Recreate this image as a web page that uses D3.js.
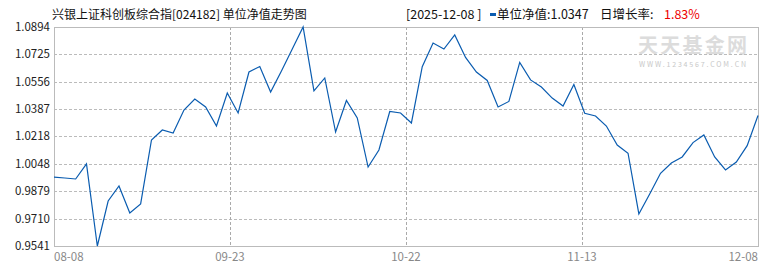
<!DOCTYPE html>
<html>
<head>
<meta charset="utf-8">
<script src="https://cdn.jsdelivr.net/npm/d3@7"></script>
<style>
  body { margin: 0; background: #fff; }
  svg text { font-family: "Noto Sans CJK SC", "DejaVu Sans", sans-serif; }
</style>
</head>
<body>
<script>
// 单位净值 (按交易日顺序)
const navValues = [
  0.9967, 0.9961, 0.9955, 1.0048, 0.9541, 0.9819, 0.9912, 0.9745, 0.9801, 1.0196,
  1.0258, 1.0239, 1.0381, 1.0449, 1.0400, 1.0282, 1.0486, 1.0363, 1.0616, 1.0650,
  1.0492, 1.0622, 1.0758, 1.0894, 1.0499, 1.0579, 1.0245, 1.0440, 1.0332, 1.0029,
  1.0134, 1.0372, 1.0363, 1.0301, 1.0649, 1.0795, 1.0758, 1.0845, 1.0706, 1.0616,
  1.0564, 1.0400, 1.0434, 1.0675, 1.0567, 1.0523, 1.0455, 1.0406, 1.0539, 1.0361,
  1.0344, 1.0282, 1.0165, 1.0114, 0.9739, 0.9862, 0.9990, 1.0054, 1.0091, 1.0180,
  1.0227, 1.0091, 1.0011, 1.0060, 1.0161, 1.0347
];
const yTicks = [0.9541, 0.9710, 0.9879, 1.0048, 1.0218, 1.0387, 1.0556, 1.0725, 1.0894];
const xTickLabels = ['08-08', '09-23', '10-22', '11-13', '12-08'];

const title = '兴银上证科创板综合指[024182] 单位净值走势图';
const lastDate = '2025-12-08';
const lastNav = '1.0347';
const lastGrowth = '1.83%';

const W = 770, H = 270;
const m = { left: 54, right: 758, top: 27, bottom: 246 };

const svg = d3.select('body').append('svg').attr('width', W).attr('height', H);

const x = d3.scaleLinear().domain([0, navValues.length - 1]).range([m.left, m.right]);
const y = d3.scaleLinear().domain([yTicks[0], yTicks[yTicks.length - 1]]).range([m.bottom, m.top]);

// 水印
svg.append('text')
  .attr('x', 638).attr('y', 53)
  .attr('font-size', 20).attr('font-weight', 'bold')
  .attr('fill', '#dcdcdc')
  .attr('textLength', 109)
  .text('天天基金网');
svg.append('text')
  .attr('x', 639).attr('y', 67)
  .attr('font-size', 7)
  .attr('fill', '#c8c8c8')
  .attr('textLength', 107)
  .text('WWW.1234567.COM.CN');

// 横向网格
svg.append('g').selectAll('line')
  .data(yTicks.slice(1, -1))
  .join('line')
  .attr('x1', m.left).attr('x2', m.right)
  .attr('y1', d => Math.round(y(d)) + 0.5).attr('y2', d => Math.round(y(d)) + 0.5)
  .style('stroke', '#bbb').style('stroke-dasharray', '3,2');

// 纵向网格
const xTickPos = xTickLabels.map((d, i) => (navValues.length - 1) * i / (xTickLabels.length - 1));
svg.append('g').selectAll('line')
  .data(xTickPos.slice(1, -1))
  .join('line')
  .attr('x1', d => Math.round(x(d)) + 0.5).attr('x2', d => Math.round(x(d)) + 0.5)
  .attr('y1', m.top).attr('y2', m.bottom)
  .style('stroke', '#aaa').style('stroke-dasharray', '3,2');

// 边框
svg.append('rect')
  .attr('x', m.left + 0.5).attr('y', m.top + 0.5)
  .attr('width', m.right - m.left).attr('height', m.bottom - m.top)
  .style('fill', 'none').style('stroke', '#bbb');

// y轴标签
svg.append('g').selectAll('text')
  .data(yTicks)
  .join('text')
  .attr('x', m.left - 4)
  .attr('y', d => y(d) + 4)
  .attr('text-anchor', 'end')
  .attr('font-size', 11.5)
  .attr('fill', '#222')
  .text(d => d.toFixed(4));

// x轴标签
svg.append('g').selectAll('text')
  .data(xTickLabels)
  .join('text')
  .attr('x', (d, i) => x(xTickPos[i]))
  .attr('y', 261)
  .attr('text-anchor', (d, i) => i === 0 ? 'start' : (i === xTickLabels.length - 1 ? 'end' : 'middle'))
  .attr('font-size', 11.5)
  .attr('fill', '#888')
  .text(d => d);

// 净值线
const line = d3.line()
  .x((d, i) => x(i))
  .y(d => y(d));
svg.append('path')
  .attr('d', line(navValues))
  .style('stroke', '#0a5cb0')
  .style('stroke-width', 1.2)
  .style('fill', 'none');

// 标题
svg.append('text')
  .attr('x', 52).attr('y', 19)
  .attr('font-size', 12)
  .attr('fill', '#111')
  .text(title);

// 右上角信息
svg.append('text')
  .attr('x', 406).attr('y', 19)
  .attr('font-size', 12.5).attr('fill', '#111')
  .text('[' + lastDate + ' ]');
svg.append('rect')
  .attr('x', 490).attr('y', 13).attr('width', 6).attr('height', 3)
  .style('fill', '#0a5cb0');
svg.append('text')
  .attr('x', 497).attr('y', 19)
  .attr('font-size', 12.5).attr('fill', '#111')
  .text('单位净值:' + lastNav);
svg.append('text')
  .attr('x', 600).attr('y', 19)
  .attr('font-size', 12.5).attr('fill', '#111')
  .text('日增长率:');
svg.append('text')
  .attr('x', 664).attr('y', 19)
  .attr('font-size', 12.5).attr('fill', '#e00')
  .text(lastGrowth);
</script>
</body>
</html>
